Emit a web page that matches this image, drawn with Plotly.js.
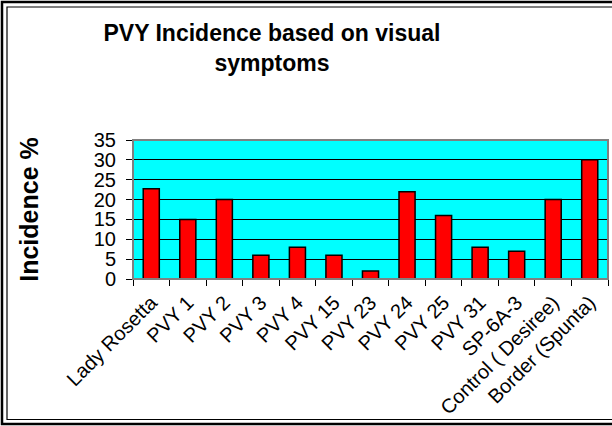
<!DOCTYPE html>
<html>
<head>
<meta charset="utf-8">
<script src="https://cdn.plot.ly/plotly-3.0.1.min.js"></script>
<style>
  html, body { margin: 0; padding: 0; background: #ffffff; }
  #chart { width: 612px; height: 426px; }
</style>
</head>
<body>
<div id="chart"></div>
<script>
const categories = ['Lady Rosetta', 'PVY 1', 'PVY 2', 'PVY 3', 'PVY 4', 'PVY 15', 'PVY 23',
  'PVY 24', 'PVY 25', 'PVY 31', 'SP-6A-3', 'Control ( Desiree)', 'Border (Spunta)'];
const incidence = [22.7, 15, 20, 6, 8, 6, 2, 22, 16, 8, 7, 20, 30];
const yTickValues = [0, 5, 10, 15, 20, 25, 30, 35];

const FONT = 'Arial, "Liberation Sans", sans-serif';

// plot area in px: x 133..608, y 140..279
const L = 133, R = 608, T = 140, B = 279;
const W = R - L, H = B - T;
const px = v => (v - L) / W;
const py = v => (B - v) / H;

const trace = {
  type: 'bar',
  x: categories,
  y: incidence,
  marker: { color: '#FF0000', line: { color: '#000000', width: 1.5 } },
  hoverinfo: 'x+y'
};

const layout = {
  width: 612, height: 426,
  margin: { l: L, r: 612 - R, t: T, b: 426 - B, pad: 0 },
  paper_bgcolor: '#FFFFFF',
  plot_bgcolor: '#00FFFF',
  showlegend: false,
  bargap: 0.56,
  font: { family: FONT, color: '#000000' },
  title: {
    text: '<b>PVY Incidence based on visual<br>symptoms</b>',
    font: { family: FONT, size: 23, color: '#000000' },
    x: 272 / 612, xref: 'container', xanchor: 'center',
    y: 1 - 41 / 426, yref: 'container', yanchor: 'top'
  },
  xaxis: {
    type: 'category',
    tickangle: -45,
    tickson: 'boundaries',
    ticks: 'outside', ticklen: 6, tickcolor: '#000000', tickwidth: 1,
    showline: true, linecolor: '#000000', linewidth: 1,
    showgrid: false,
    tickfont: { family: FONT, size: 20, color: '#000000' },
    ticklabelstandoff: 3,
    automargin: false
  },
  yaxis: {
    range: [0, 35],
    tickvals: yTickValues,
    ticks: 'outside', ticklen: 6, tickcolor: '#000000', tickwidth: 1,
    showline: true, linecolor: '#808080', linewidth: 1,
    showgrid: true, gridcolor: '#000000', gridwidth: 1,
    zeroline: false,
    tickfont: { family: FONT, size: 20, color: '#000000' },
    ticklabelstandoff: 6,
    title: { text: '<b>Incidence %</b>', font: { family: FONT, size: 25, color: '#000000' }, standoff: 48 },
    automargin: false
  },
  shapes: [
    // plot-area border (gray)
    { type: 'rect', xref: 'paper', yref: 'paper', x0: 0, x1: 1, y0: 0, y1: 1,
      line: { color: '#808080', width: 2 }, layer: 'above' },
    // outer double frame
    { type: 'rect', xref: 'paper', yref: 'paper', x0: px(2), x1: px(640), y0: py(424), y1: py(2),
      line: { color: '#000000', width: 2.5 } },
    { type: 'rect', xref: 'paper', yref: 'paper', x0: px(7), x1: px(640), y0: py(419.5), y1: py(7),
      line: { color: '#000000', width: 1.2 } }
  ]
};

Plotly.newPlot('chart', [trace], layout, { displayModeBar: false, staticPlot: true });
</script>
</body>
</html>
